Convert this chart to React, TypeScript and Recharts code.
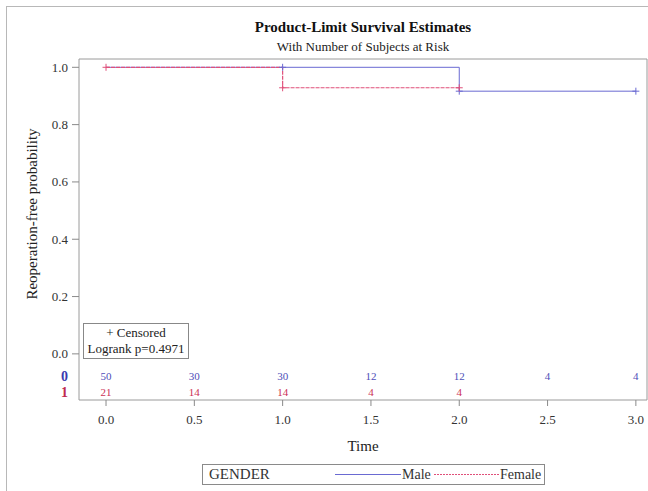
import React from 'react';
import { ComposedChart, Line, Scatter, XAxis, YAxis, ReferenceArea } from 'recharts';

// ---- data ----
const timeTicks = [0, 0.5, 1, 1.5, 2, 2.5, 3];
const probTicks = [0, 0.2, 0.4, 0.6, 0.8, 1];
const maleTimes = [0, 2, 3];
const maleSurv = [1, 0.9167, 0.9167];
const femaleTimes = [0, 1, 2];
const femaleSurv = [1, 0.9286, 0.9286];
const maleCensorTimes = [1, 2, 3];
const maleCensorSurv = [1, 0.9167, 0.9167];
const femaleCensorTimes = [0, 1, 2];
const femaleCensorSurv = [1, 0.9286, 0.9286];
const maleRiskTimes = [0, 0.5, 1, 1.5, 2, 2.5, 3];
const maleAtRisk = [50, 30, 30, 12, 12, 4, 4];
const femaleRiskTimes = [0, 0.5, 1, 1.5, 2];
const femaleAtRisk = [21, 14, 14, 4, 4];
const groupLabels = ['0', '1'];
const legendTitle = 'GENDER';
const seriesNames = ['Male', 'Female'];

// ---- layout / style ----
const X_DOMAIN: [number, number] = [-0.153, 3.063];
const Y_DOMAIN: [number, number] = [-0.161, 1.029];
const ROW_Y = [-0.0785, -0.134];
const BLUE = '#6a6ad2';
const RED = '#e0507a';
const BLUE_TXT = '#4e4eb8';
const RED_TXT = '#cc3055';
const FONT = '"Liberation Serif", "Times New Roman", serif';

const toXY = (xs: number[], ys: number[]) => xs.map((x, i) => ({ x, y: ys[i] }));
const maleData = toXY(maleTimes, maleSurv);
const femaleData = toXY(femaleTimes, femaleSurv);
const maleCensor = toXY(maleCensorTimes, maleCensorSurv);
const femaleCensor = toXY(femaleCensorTimes, femaleCensorSurv);
const maleRisk = maleRiskTimes.map((x, i) => ({ x, y: ROW_Y[0], n: maleAtRisk[i] }));
const femaleRisk = femaleRiskTimes.map((x, i) => ({ x, y: ROW_Y[1], n: femaleAtRisk[i] }));

const censorShape = (color: string) => (p: any) => (
  <path
    d={`M${p.cx - 3.5},${p.cy}h7M${p.cx},${p.cy - 3.5}v7`}
    stroke={color}
    strokeWidth={1}
    fill="none"
  />
);

const riskShape = (color: string) => (p: any) => (
  <text
    x={p.cx}
    y={p.cy}
    textAnchor="middle"
    dominantBaseline="central"
    fill={color}
    fontSize={11}
    fontFamily={FONT}
  >
    {p.payload.n}
  </text>
);

const YTick = (props: any) => {
  const { x, y, payload } = props;
  const v = payload.value;
  const rowIdx = ROW_Y.findIndex((r) => Math.abs(r - v) < 1e-6);
  if (rowIdx >= 0) {
    return (
      <text
        x={x}
        y={y}
        textAnchor="end"
        dominantBaseline="central"
        fill={rowIdx === 0 ? '#3a3ab0' : '#c02a50'}
        fontSize={14}
        fontWeight="bold"
        fontFamily={FONT}
      >
        {groupLabels[rowIdx]}
      </text>
    );
  }
  return (
    <g>
      <line x1={x + 4} x2={x + 11} y1={y} y2={y} stroke="#8a8a8a" />
      <text
        x={x}
        y={y}
        textAnchor="end"
        dominantBaseline="central"
        fill="#333"
        fontSize={13}
        fontFamily={FONT}
      >
        {Number(v).toFixed(1)}
      </text>
    </g>
  );
};

export default function App() {
  return (
    <div
      style={{
        position: 'absolute',
        left: 0,
        top: 0,
        width: 648,
        height: 491,
        overflow: 'hidden',
        background: '#fff',
        fontFamily: FONT,
      }}
    >
      <div
        style={{
          position: 'absolute',
          left: 6,
          top: 6,
          width: 800,
          height: 700,
          border: '1px solid #b8b8b8',
        }}
      />
      <div
        style={{
          position: 'absolute',
          left: 0,
          width: 726,
          top: 18,
          textAlign: 'center',
          fontSize: 15,
          fontWeight: 'bold',
          color: '#111',
          lineHeight: '18px',
        }}
      >
        Product-Limit Survival Estimates
      </div>
      <div
        style={{
          position: 'absolute',
          left: 0,
          width: 726,
          top: 39,
          textAlign: 'center',
          fontSize: 13,
          color: '#222',
          lineHeight: '16px',
        }}
      >
        With Number of Subjects at Risk
      </div>
      <div
        style={{
          position: 'absolute',
          left: 32 - 120,
          top: 214 - 10,
          width: 240,
          height: 20,
          lineHeight: '20px',
          textAlign: 'center',
          fontSize: 15,
          color: '#222',
          transform: 'rotate(-90deg)',
        }}
      >
        Reoperation-free probability
      </div>
      <div
        style={{
          position: 'absolute',
          left: 263,
          width: 200,
          top: 436,
          textAlign: 'center',
          fontSize: 15,
          color: '#222',
          lineHeight: '20px',
        }}
      >
        Time
      </div>
      <div style={{ position: 'absolute', left: 0, top: 0 }}>
        <ComposedChart
          width={648}
          height={491}
          margin={{ top: 59, right: 1, bottom: 0, left: 0 }}
        >
          <XAxis
            dataKey="x"
            type="number"
            domain={X_DOMAIN}
            allowDataOverflow
            ticks={timeTicks}
            interval={0}
            tickFormatter={(v: number) => v.toFixed(1)}
            axisLine={false}
            tickLine={{ stroke: '#8a8a8a' }}
            tickSize={6}
            tickMargin={9}
            height={91}
            tick={{ fill: '#333', fontSize: 13, fontFamily: FONT }}
          />
          <YAxis
            type="number"
            domain={Y_DOMAIN}
            allowDataOverflow
            ticks={[...probTicks, ...ROW_Y]}
            interval={0}
            width={79}
            axisLine={false}
            tickLine={false}
            tickSize={7}
            tickMargin={4}
            tick={<YTick />}
          />
          <ReferenceArea
            x1={X_DOMAIN[0]}
            x2={X_DOMAIN[1]}
            y1={Y_DOMAIN[0]}
            y2={Y_DOMAIN[1]}
            fill="none"
            stroke="#9a9a9a"
            strokeWidth={1}
            ifOverflow="visible"
          />
          <Line
            data={maleData}
            dataKey="y"
            type="stepAfter"
            stroke={BLUE}
            strokeWidth={1}
            dot={false}
            isAnimationActive={false}
          />
          <Line
            data={femaleData}
            dataKey="y"
            type="stepAfter"
            stroke={RED}
            strokeWidth={1.2}
            strokeDasharray="4 1"
            dot={false}
            isAnimationActive={false}
          />
          <Scatter data={maleCensor} dataKey="y" shape={censorShape(BLUE)} isAnimationActive={false} />
          <Scatter data={femaleCensor} dataKey="y" shape={censorShape(RED)} isAnimationActive={false} />
          <Scatter data={maleRisk} dataKey="y" shape={riskShape(BLUE_TXT)} isAnimationActive={false} />
          <Scatter data={femaleRisk} dataKey="y" shape={riskShape(RED_TXT)} isAnimationActive={false} />
        </ComposedChart>
      </div>
      <div
        style={{
          position: 'absolute',
          left: 83,
          top: 323,
          width: 104,
          height: 33,
          border: '1px solid #888',
          background: '#fff',
          textAlign: 'center',
          fontSize: 13,
          color: '#222',
          lineHeight: '16px',
          paddingTop: 1,
          boxSizing: 'content-box',
        }}
      >
        <div>+ Censored</div>
        <div>Logrank p=0.4971</div>
      </div>
      <div
        style={{
          position: 'absolute',
          left: 202,
          top: 464,
          width: 341,
          height: 19,
          border: '1px solid #8a8a8a',
          fontSize: 15,
          color: '#333',
        }}
      >
        <span style={{ position: 'absolute', left: 6, top: 0, lineHeight: '19px' }}>{legendTitle}</span>
        <svg style={{ position: 'absolute', left: 132, top: 0 }} width={66} height={19}>
          <line x1={0} x2={66} y1={9.5} y2={9.5} stroke={BLUE} strokeWidth={1} />
        </svg>
        <span style={{ position: 'absolute', left: 199, top: 0, lineHeight: '19px', fontSize: 14 }}>
          {seriesNames[0]}
        </span>
        <svg style={{ position: 'absolute', left: 231, top: 0 }} width={65} height={19}>
          <line x1={0} x2={65} y1={9.5} y2={9.5} stroke={RED} strokeWidth={1} strokeDasharray="2 1" />
        </svg>
        <span style={{ position: 'absolute', left: 297, top: 0, lineHeight: '19px', fontSize: 14 }}>
          {seriesNames[1]}
        </span>
      </div>
    </div>
  );
}
